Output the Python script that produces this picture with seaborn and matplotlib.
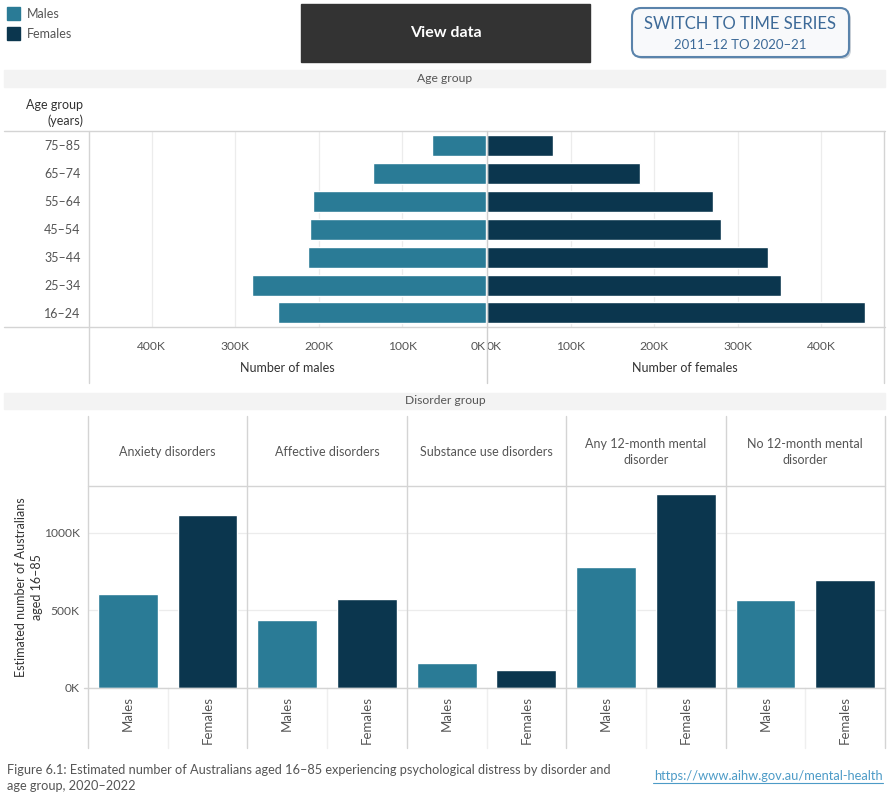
import matplotlib
matplotlib.use('Agg')
import matplotlib.pyplot as plt
import seaborn as sns
import pandas as pd
from matplotlib.lines import Line2D
from matplotlib.patches import Rectangle, FancyBboxPatch

# ---------------- data ----------------
age_groups = ["75–85", "65–74", "55–64", "45–54", "35–44", "25–34", "16–24"]
males_by_age = [65000, 135000, 207000, 210000, 213000, 280000, 249000]
females_by_age = [79000, 183000, 270000, 280000, 336000, 352000, 452000]
age_ticks = [0, 100000, 200000, 300000, 400000]

disorder_groups = ["Anxiety disorders", "Affective disorders", "Substance use disorders",
                   "Any 12-month mental\ndisorder", "No 12-month mental\ndisorder"]
sexes = ["Males", "Females"]
males_by_disorder = [606000, 438000, 160000, 780000, 567000]
females_by_disorder = [1110000, 573000, 114000, 1246000, 696000]
disorder_ticks = [0, 500000, 1000000]

MALE_C = "#2a7b96"
FEMALE_C = "#0b364e"
TXT = "#555555"
DARK = "#333333"
LINE = "#d4d4d4"
GRID = "#ececec"

sns.set_theme(style="white")
plt.rcParams["font.family"] = ["Lato", "DejaVu Sans"]

W, H = 890, 800
fig = plt.figure(figsize=(W / 100, H / 100), dpi=100)


def ax_rect(x0, y0, x1, y1):
    return [x0 / W, 1 - y1 / H, (x1 - x0) / W, (y1 - y0) / H]


def kfmt(v):
    return f"{v / 1000:.0f}K"


# ---------------- age group pyramid ----------------
df_age = pd.DataFrame({"Age group": age_groups, "Males": males_by_age, "Females": females_by_age})
XMAX = 475000

axm = fig.add_axes(ax_rect(89, 131, 486, 327))
sns.barplot(data=df_age, y="Age group", x="Males", color=MALE_C, saturation=1,
            width=0.75, orient="h", ax=axm)
axm.set_xlim(XMAX, 0)

axf = fig.add_axes(ax_rect(487, 131, 884, 327))
sns.barplot(data=df_age, y="Age group", x="Females", color=FEMALE_C, saturation=1,
            width=0.75, orient="h", ax=axf)
axf.set_xlim(0, XMAX)

for ax in (axm, axf):
    ax.set_xticks(age_ticks)
    ax.set_xticklabels([kfmt(v) for v in age_ticks])
    ax.set_xlabel("")
    ax.set_ylabel("")
    ax.grid(axis="x", color=GRID, lw=0.9)
    ax.set_axisbelow(True)
    for s in ax.spines.values():
        s.set_visible(False)
    ax.tick_params(axis="x", length=0, pad=10, labelsize=8.7, labelcolor=TXT)
    ax.patch.set_alpha(0)

axm.tick_params(axis="y", length=0, pad=6, labelsize=9, labelcolor=TXT)
axf.tick_params(axis="y", length=0, labelleft=False)
axm.get_xticklabels()[0].set_ha("right")
axf.get_xticklabels()[0].set_ha("left")

# ---------------- disorder group facets ----------------
PW = (885 - 88) / 5
YMAX = 1306000
for i, dg in enumerate(disorder_groups):
    x0 = 88 + i * PW
    ax = fig.add_axes(ax_rect(x0, 485, x0 + PW, 688))
    df = pd.DataFrame({"Sex": sexes, "Value": [males_by_disorder[i], females_by_disorder[i]]})
    sns.barplot(data=df, x="Sex", y="Value", hue="Sex", palette=[MALE_C, FEMALE_C],
                legend=False, saturation=1, width=0.75, ax=ax)
    ax.set_xlim(-0.5, 1.5)
    ax.set_ylim(0, YMAX)
    ax.set_yticks(disorder_ticks)
    ax.grid(axis="y", color=GRID, lw=0.9)
    ax.set_axisbelow(True)
    ax.set_xlabel("")
    ax.set_ylabel("")
    for s in ax.spines.values():
        s.set_visible(False)
    ax.patch.set_alpha(0)
    ax.tick_params(axis="x", length=0, pad=6, labelsize=9.5, labelcolor=TXT)
    for lab in ax.get_xticklabels():
        lab.set_rotation(90)
        lab.set_va("top")
    if i == 0:
        ax.set_yticklabels([kfmt(v) for v in disorder_ticks])
        ax.tick_params(axis="y", length=0, pad=6, labelsize=8.7, labelcolor=TXT)
    else:
        ax.tick_params(axis="y", length=0, labelleft=False)

# ---------------- overlay (pixel coordinates) ----------------
ov = fig.add_axes([0, 0, 1, 1], zorder=10)
ov.set_xlim(0, W)
ov.set_ylim(H, 0)
ov.axis("off")
ov.patch.set_alpha(0)


def hl(y, x0, x1, c=LINE, lw=1.0):
    ov.add_line(Line2D([x0, x1], [y, y], color=c, lw=lw))


def vl(x, y0, y1, c=LINE, lw=1.0):
    ov.add_line(Line2D([x, x], [y0, y1], color=c, lw=lw))


# legend
ov.add_patch(Rectangle((7, 7), 13, 13, color=MALE_C))
ov.add_patch(Rectangle((7, 27), 13, 13, color=FEMALE_C))
ov.text(27, 14, "Males", color=TXT, fontsize=9, va="center")
ov.text(27, 34, "Females", color=TXT, fontsize=9, va="center")

# View data button
ov.add_patch(Rectangle((301, 4), 289, 58, color="#333333"))
ov.text(445.5, 33, "View data", color="white", fontsize=11.5, fontweight="bold",
        ha="center", va="center")

# switch button
ov.add_patch(FancyBboxPatch((634, 10), 217, 49, boxstyle="round,pad=0,rounding_size=9",
                            fc="#9aa6b2", ec="none", alpha=0.5))
ov.add_patch(FancyBboxPatch((632, 8), 217, 49, boxstyle="round,pad=0,rounding_size=9",
                            fc="#f8f9fb", ec="#5a83ab", lw=1.5))
ov.text(740.5, 24, "SWITCH TO TIME SERIES", color="#3d6a98", fontsize=12,
        ha="center", va="center")
ov.text(740.5, 45, "2011–12 TO 2020–21", color="#3d6a98", fontsize=9.5,
        ha="center", va="center")

# Age group header
ov.add_patch(Rectangle((4, 70), 881, 17, color="#f3f3f3"))
ov.text(445, 78.5, "Age group", color=TXT, fontsize=8.7, ha="center", va="center")
ov.text(83, 105, "Age group", color=DARK, fontsize=9, ha="right", va="center")
ov.text(83, 121, "(years)", color=DARK, fontsize=9, ha="right", va="center")

hl(131, 4, 885)
hl(327, 4, 885)
vl(89, 131, 383)
vl(486.5, 131, 383, c="#cfcfcf")
vl(884, 131, 383)
ov.text(287, 368, "Number of males", color=DARK, fontsize=9, ha="center", va="center")
ov.text(685, 368, "Number of females", color=DARK, fontsize=9, ha="center", va="center")

# Disorder group header
ov.add_patch(Rectangle((4, 393), 881, 16, color="#f3f3f3"))
ov.text(445, 401, "Disorder group", color=TXT, fontsize=8.7, ha="center", va="center")

for i, dg in enumerate(disorder_groups):
    x0 = 88 + i * PW
    ov.text(x0 + PW / 2, 452, dg, color=TXT, fontsize=9, ha="center", va="center",
            linespacing=1.45)
    vl(x0 + PW / 2, 688, 748, c="#efefef")
for i in range(6):
    vl(88 + i * PW, 416, 748)
hl(485.5, 88, 885)
hl(688, 84, 885)

ov.text(21, 587, "Estimated number of Australians", color=DARK, fontsize=9,
        ha="center", va="center", rotation=90)
ov.text(37, 587, "aged 16–85", color=DARK, fontsize=9, ha="center", va="center",
        rotation=90)

# footer
ov.text(7, 770, "Figure 6.1: Estimated number of Australians aged 16–85 experiencing psychological distress by disorder and",
        color=TXT, fontsize=9.2, va="center")
ov.text(7, 786, "age group, 2020–2022", color=TXT, fontsize=9.2, va="center")
ov.text(883, 776, "https://www.aihw.gov.au/mental-health", color="#4d9bc7", fontsize=9.3,
        va="center", ha="right")
hl(783, 653, 883, c="#4d9bc7", lw=0.8)

fig.savefig("out.png", dpi=100, facecolor="white")
